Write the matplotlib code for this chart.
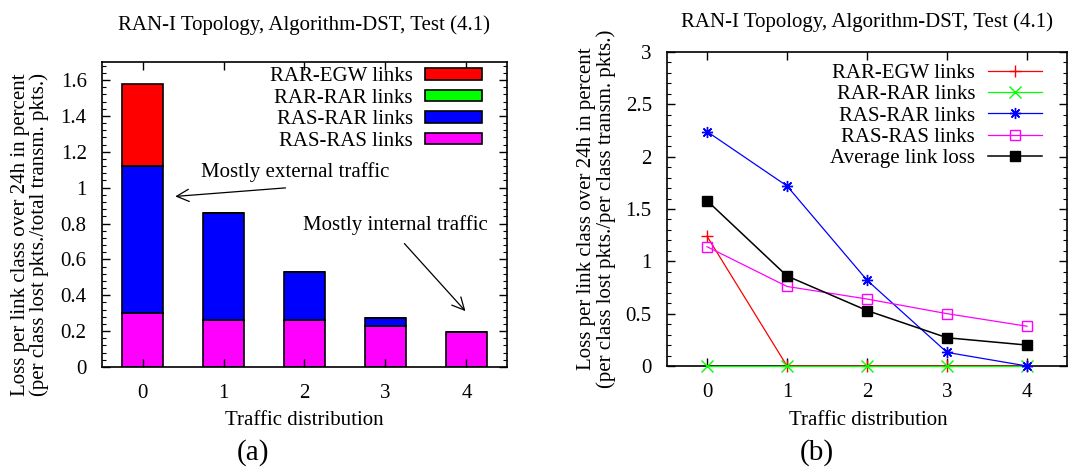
import matplotlib
matplotlib.use('Agg')
import matplotlib.pyplot as plt
import numpy as np
from matplotlib.ticker import MultipleLocator, FuncFormatter

plt.rcParams['font.family'] = ['Liberation Serif', 'DejaVu Serif']
plt.rcParams['font.size'] = 15

# data
x = [0, 1, 2, 3, 4]
labels = ['RAR-EGW links', 'RAR-RAR links', 'RAS-RAR links', 'RAS-RAS links']
colors = ['#ff0000', '#00ff00', '#0000ff', '#ff00ff']

# (a) stacked contributions to average link loss
bar_ras_ras = [0.30, 0.26, 0.26, 0.23, 0.195]
bar_ras_rar = [0.82, 0.60, 0.27, 0.045, 0.0]
bar_rar_rar = [0.0, 0.0, 0.0, 0.0, 0.0]
bar_rar_egw = [0.46, 0.0, 0.0, 0.0, 0.0]

# (b) loss per link class
rar_egw = [1.24, 0.0, 0.0, 0.0, 0.0]
rar_rar = [0.0, 0.0, 0.0, 0.0, 0.0]
ras_rar = [2.24, 1.72, 0.82, 0.13, 0.0]
ras_ras = [1.14, 0.76, 0.64, 0.50, 0.38]
avg_loss = [1.58, 0.86, 0.53, 0.27, 0.2]

title = 'RAN-I Topology, Algorithm-DST, Test (4.1)'
fs = 15

fig = plt.figure(figsize=(10.91, 4.69), dpi=100)
ax1 = fig.add_axes([0.0935, 0.2175, 0.3712, 0.650])
ax2 = fig.add_axes([0.6114, 0.2196, 0.3666, 0.6695])

def style_axes(ax, ymax, ymajor, yminor, tpad):
    ax.set_xlim(-0.5, 4.5)
    ax.set_ylim(0, ymax)
    ax.set_xticks(x)
    ax.yaxis.set_major_locator(MultipleLocator(ymajor))
    ax.yaxis.set_minor_locator(MultipleLocator(yminor))
    ax.yaxis.set_major_formatter(FuncFormatter(lambda v, p: '%g' % round(v, 3)))
    ax.tick_params(which='both', direction='in', top=True, right=True)
    ax.tick_params(which='major', length=6, width=1)
    ax.tick_params(which='minor', length=3, width=0.8)
    ax.tick_params(axis='x', labelsize=fs, pad=12)
    ax.tick_params(axis='y', labelsize=fs, pad=11)
    for s in ax.spines.values():
        s.set_linewidth(1.2)
    ax.set_title(title, fontsize=fs, pad=tpad)

# ---- (a)
bottom = np.zeros(5)
stack = [(bar_ras_ras, 3), (bar_ras_rar, 2), (bar_rar_rar, 1), (bar_rar_egw, 0)]
handles = {}
for vals, k in stack:
    b = ax1.bar(x, vals, 0.5, bottom=bottom, color=colors[k], edgecolor='black',
                linewidth=1.2, label=labels[k])
    handles[k] = b
    bottom = bottom + np.array(vals)
style_axes(ax1, 1.7, 0.2, 0.04, 23)
ax1.legend([handles[k] for k in range(4)], labels, loc='upper right',
           bbox_to_anchor=(0.958, 1.01), frameon=False,
           markerfirst=False, handlelength=2.7, handleheight=0.5, labelspacing=0.12,
           borderaxespad=0, handletextpad=0.6, fontsize=fs)
ax1.annotate('', xy=(0.37, 0.95), xytext=(1.80, 1.0),
             arrowprops=dict(arrowstyle='->', lw=0.9, mutation_scale=22, color='black'))
ax1.text(1.89, 1.087, 'Mostly external traffic', ha='center', va='center', fontsize=fs)
ax1.annotate('', xy=(4.01, 0.30), xytext=(3.21, 0.70),
             arrowprops=dict(arrowstyle='->', lw=0.9, mutation_scale=22, color='black'))
ax1.text(3.12, 0.79, 'Mostly internal traffic', ha='center', va='center', fontsize=fs)

# ---- (b)
series = [rar_egw, rar_rar, ras_rar, ras_ras]
markers = ['+', 'x', (8, 2, 0), 's']
msizes = [8, 8, 8, 7]
for k in range(4):
    mfc = 'none' if markers[k] == 's' else colors[k]
    ax2.plot(x, series[k], color=colors[k], marker=markers[k], markersize=msizes[k],
             mfc=mfc, mec=colors[k], lw=0.9, label=labels[k], clip_on=False, zorder=3)
ax2.plot(x, avg_loss, color='black', marker='s', markersize=7, lw=1.1,
         label='Average link loss', clip_on=False, zorder=3)
style_axes(ax2, 3, 0.5, 0.1, 18)
ax2.legend(loc='upper right', bbox_to_anchor=(0.958, 0.99), frameon=False,
           markerfirst=False, handlelength=2.6, labelspacing=0.08, borderaxespad=0,
           handletextpad=0.6, fontsize=fs)

# labels
fig.text(0.0275, 0.50, 'Loss per link class over 24h in percent\n(per class lost pkts./total transm. pkts.)',
         rotation=90, ha='center', va='center', fontsize=fs, linespacing=1.0)
fig.text(0.547, 0.554, 'Loss per link class over 24h in percent\n(per class lost pkts./per class transm. pkts.)',
         rotation=90, ha='center', va='center', fontsize=fs, linespacing=1.0)
fig.text(304 / 1091, 1 - 420 / 469, 'Traffic distribution', ha='center', va='center', fontsize=fs)
fig.text(868 / 1091, 1 - 420 / 469, 'Traffic distribution', ha='center', va='center', fontsize=fs)
fig.text(253 / 1091, 1 - 453 / 469, '(a)', ha='center', va='center', fontsize=21)
fig.text(817 / 1091, 1 - 453 / 469, '(b)', ha='center', va='center', fontsize=21)

fig.savefig('out.png', dpi=100)
